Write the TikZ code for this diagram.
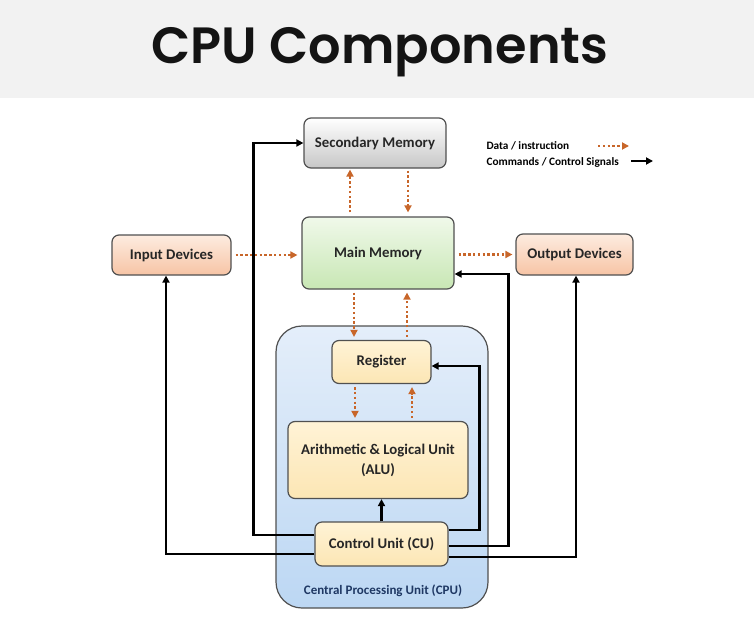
\documentclass[tikz,border=0pt]{standalone}
\usepackage{fontspec}
\setmainfont{Carlito}
\newfontfamily\headfont{Poppins}[BoldFont={Poppins SemiBold}]
\usetikzlibrary{arrows.meta}

\definecolor{bandgray}{HTML}{F2F2F2}
\definecolor{boxline}{HTML}{505050}
\definecolor{dataorange}{HTML}{C8662A}
\definecolor{cpublue}{HTML}{1F3864}

\begin{document}
\begin{tikzpicture}[x=1pt,y=-1pt,
  box/.style={draw=boxline, line width=1.2pt, rounded corners=7pt, inner sep=0pt,
    align=center, font=\bfseries\fontsize{14.8}{20}\selectfont, text=black!85},
  grayfill/.style={top color=white, bottom color=black!22},
  greenfill/.style={top color={rgb,255:red,240;green,249;blue,234}, bottom color={rgb,255:red,200;green,231;blue,180}},
  peachfill/.style={top color={rgb,255:red,253;green,236;blue,224}, bottom color={rgb,255:red,247;green,196;blue,165}},
  yellowfill/.style={top color={rgb,255:red,255;green,243;blue,214}, bottom color={rgb,255:red,252;green,230;blue,180}},
  data/.style={draw=dataorange, line width=2.4pt, dash pattern=on 2.4pt off 2.4pt,
    -{Triangle[length=7pt,width=7pt]}, dataorange},
  ctrl/.style={draw=black, line width=2.3pt, -{Triangle[length=7pt,width=7pt]}, line join=miter}]

  \useasboundingbox (0,0) rectangle (754,629);
  \fill[bandgray] (0,0) rectangle (754,98);
  \node[font=\headfont\bfseries\fontsize{51}{60}\selectfont, text=black!92] (title) at (380,52) {CPU Components};

  % cpu container first, so it sits behind
  \node[box, line width=1.2pt, rounded corners=26pt, minimum width=212pt, minimum height=282pt,
    top color={rgb,255:red,228;green,238;blue,250}, bottom color={rgb,255:red,188;green,215;blue,243}] (cpu) at (382,467) {};
  \node[font=\bfseries\fontsize{13}{15}\selectfont, text=cpublue] (cpulbl) at (383,591) {Central Processing Unit (CPU)};

  \node[box, grayfill, minimum width=142pt, minimum height=50pt] (sec) at (375,143) {Secondary Memory};
  \node[box, greenfill, minimum width=152pt, minimum height=72pt] (mm) at (378,253) {Main Memory};
  \node[box, peachfill, minimum width=119pt, minimum height=40pt] (inp) at (171.5,255) {Input Devices};
  \node[box, peachfill, minimum width=117pt, minimum height=41pt] (out) at (574.5,254.5) {Output Devices};
  \node[box, yellowfill, minimum width=99pt, minimum height=43pt] (reg) at (381.5,362) {Register};
  \node[box, yellowfill, minimum width=180pt, minimum height=77pt] (alu) at (378,460) {Arithmetic \& Logical Unit\\(ALU)};
  \node[box, yellowfill, minimum width=133pt, minimum height=44pt] (cu) at (381.5,544) {Control Unit (CU)};

  % legend
  \node[anchor=west, font=\bfseries\fontsize{11.3}{13}\selectfont] (lgdata) at (483,146) {Data / instruction};
  \node[anchor=west, font=\bfseries\fontsize{11.3}{13}\selectfont] (lgctrl) at (483,162) {Commands / Control Signals};
  \coordinate (lgdataA) at (598,146);
  \coordinate (lgdataB) at (629,146);
  \coordinate (lgctrlA) at (631,161);
  \coordinate (lgctrlB) at (653,161);
  \draw[data, line width=1.8pt] (lgdataA) -- (lgdataB);
  \draw[ctrl, line width=1.8pt] (lgctrlA) -- (lgctrlB);

  % data / instruction paths
  \draw[data, shorten <=4pt, shorten >=1pt] ([xshift=-28pt]mm.north) -- ([xshift=-28pt]mm.north |- sec.south);
  \draw[data, shorten <=2pt, shorten >=4pt] ([xshift=30pt]mm.north |- sec.south) -- ([xshift=30pt]mm.north);
  \draw[data, shorten <=4pt, shorten >=4pt] (inp.east) -- (inp.east -| mm.west);
  \draw[data, shorten <=4pt, shorten >=3pt] (mm.east |- out.west) -- (out.west);
  \draw[data, shorten <=3pt, shorten >=3pt] ([xshift=-24pt]mm.south) -- ([xshift=-24pt]mm.south |- reg.north);
  \draw[data, shorten <=3pt, shorten >=3pt] ([xshift=25.5pt]reg.north) -- ([xshift=25.5pt]reg.north |- mm.south);
  \draw[data, shorten <=3pt, shorten >=3pt] ([xshift=-26.5pt]reg.south) -- ([xshift=-26.5pt]reg.south |- alu.north);
  \draw[data, shorten <=3pt, shorten >=3pt] ([xshift=30.5pt]reg.south |- alu.north) -- ([xshift=30.5pt]reg.south);

  % control signals
  \draw[ctrl] (cu.north) -- (cu.north |- alu.south);
  \draw[ctrl] ([yshift=9pt]cu.west) -- ++(-61,0) |- (sec.west);
  \draw[ctrl] ([yshift=-10pt]cu.west) -| ([xshift=-5.5pt]inp.south);
  \draw[ctrl] ([yshift=14pt]cu.east) -- ++(31,0) |- ([yshift=-4pt]reg.east);
  \draw[ctrl] ([yshift=-2pt]cu.east) -- ++(60,0) |- ([yshift=-21pt]mm.east);
  \draw[ctrl] ([yshift=-13pt]cu.east) -| ([xshift=1.5pt]out.south);
\end{tikzpicture}
\end{document}
